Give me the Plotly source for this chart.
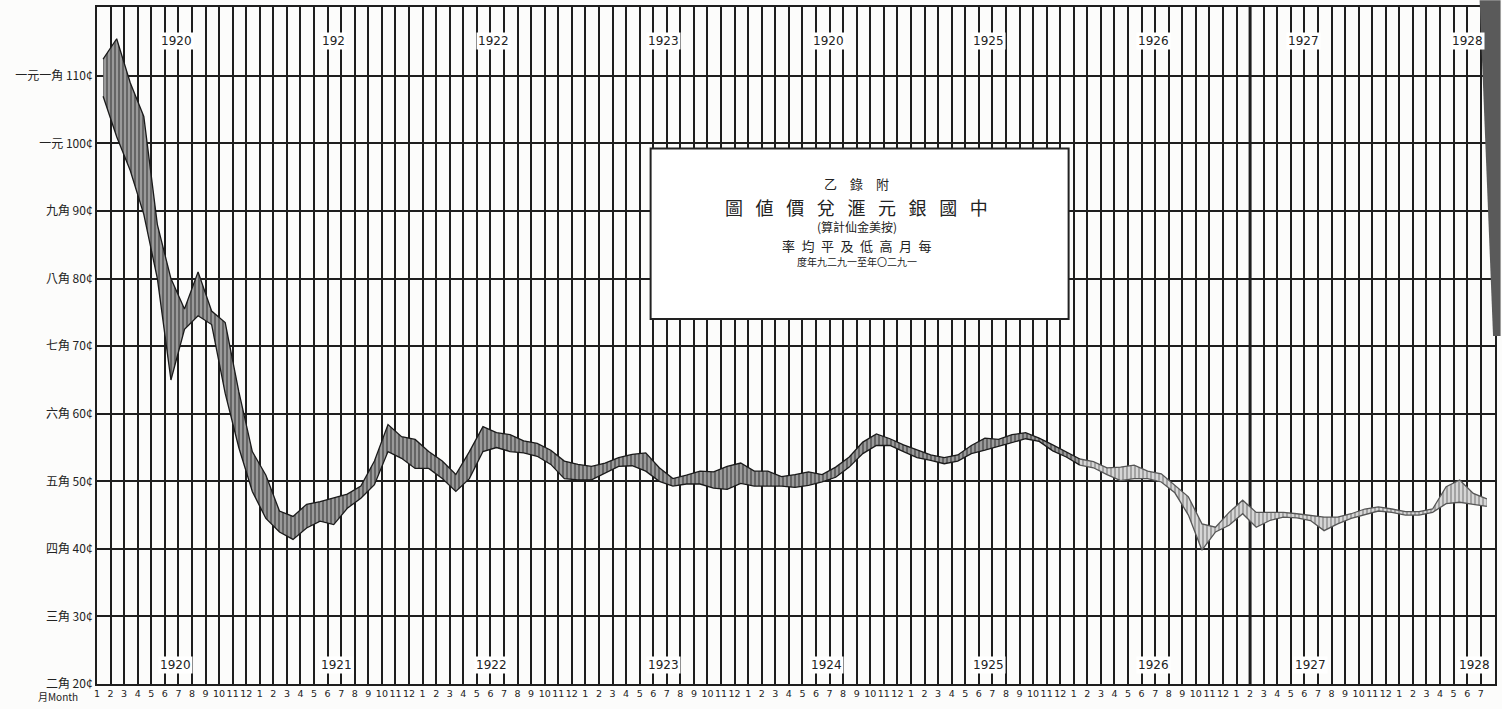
import plotly.graph_objects as go

# ---------------- data ----------------
# monthly index 0 = Jan 1920 ... 102 = Jul 1928 ; values in US cents
low = [
    107.0, 101.0, 96.0, 89.5, 80.0, 65.0, 72.5, 74.5, 73.2, 63.0, 55.0, 48.5,   # 1920
    44.5, 42.5, 41.4, 43.1, 44.1, 43.6, 46.0, 47.5, 49.5, 54.4, 53.4, 51.9,     # 1921
    51.9, 50.4, 48.5, 50.4, 54.4, 55.0, 54.4, 54.2, 53.7, 52.5, 50.4, 50.2,     # 1922
    50.2, 51.2, 52.2, 52.3, 51.5, 50.0, 49.3, 49.6, 49.6, 49.0, 48.8, 49.7,     # 1923
    49.3, 49.3, 49.3, 49.1, 49.4, 49.9, 50.6, 52.1, 54.1, 55.3, 55.3, 54.4,     # 1924
    53.5, 53.1, 52.6, 53.0, 54.1, 54.6, 55.2, 55.8, 56.3, 55.9, 54.5, 53.6,     # 1925
    52.4, 52.0, 51.0, 50.1, 50.4, 50.4, 49.9, 48.3, 45.0, 39.8, 42.5, 43.5,     # 1926
    45.2, 43.2, 44.2, 44.7, 44.6, 44.2, 42.7, 43.7, 44.5, 45.0, 45.6, 45.4,     # 1927
    45.0, 45.0, 45.4, 46.7, 46.9, 46.6, 46.3,                                   # 1928
]
high = [
    112.5, 115.5, 109.0, 104.0, 88.0, 80.0, 75.5, 81.0, 75.2, 73.5, 63.3, 54.4,
    50.9, 45.6, 44.8, 46.6, 47.0, 47.5, 48.1, 49.3, 53.0, 58.4, 56.6, 56.2,
    54.4, 53.0, 51.0, 54.4, 58.1, 57.2, 56.9, 56.0, 55.6, 54.6, 53.0, 52.5,
    52.2, 52.7, 53.5, 54.0, 54.2, 52.0, 50.4, 50.9, 51.5, 51.4, 52.2, 52.7,
    51.5, 51.5, 50.7, 51.0, 51.4, 51.0, 52.1, 53.6, 55.8, 57.0, 56.3, 55.4,
    54.6, 53.9, 53.5, 53.9, 55.3, 56.4, 56.2, 56.9, 57.2, 56.4, 55.4, 54.4,
    53.3, 52.9, 52.0, 52.1, 52.4, 51.5, 51.1, 49.4, 47.7, 43.7, 43.2, 45.4,
    47.2, 45.4, 45.4, 45.4, 45.2, 45.0, 44.7, 44.7, 45.2, 45.9, 46.2, 45.9,
    45.5, 45.5, 45.9, 49.2, 50.2, 48.2, 47.4,
]
months = list(range(len(low)))

y_values = [20, 30, 40, 50, 60, 70, 80, 90, 100, 110]
y_labels = ["二角 20¢", "三角 30¢", "四角 40¢", "五角 50¢", "六角 60¢",
            "七角 70¢", "八角 80¢", "九角 90¢", "一元 100¢", "一元一角 110¢"]

month_ticks = [str(k % 12 + 1) for k in range(len(low))]

years = ["1920", "1921", "1922", "1923", "1924", "1925", "1926", "1927", "1928"]
years_top = ["1920", "192", "1922", "1923", "1920", "1925", "1926", "1927", "1928"]
year_top_pos = [5.4, 17.0, 28.8, 41.3, 53.5, 65.3, 77.4, 88.5, 100.6]
year_bot_pos = [5.3, 17.2, 28.6, 41.3, 53.3, 65.3, 77.4, 89.0, 101.1]

title_lines = ["乙　錄　附",
               "圖\u2002\u2009値\u2002\u2009價\u2002\u2009兌\u2002\u2009滙\u2002\u2009元\u2002\u2009銀\u2002\u2009國\u2002\u2009中",
               "(算計仙金美按)",
               "率\u2002均\u2002平\u2002及\u2002低\u2002高\u2002月\u2002每",
               "度年九二九一至年〇二九一"]

SPLIT = 72   # later part of the ribbon is drawn lighter

# ---------------- figure ----------------
fig = go.Figure()

def ribbon(idx, line_col, fg, bg):
    xs = [months[i] for i in idx]
    fig.add_trace(go.Scatter(x=xs, y=[low[i] for i in idx], mode="lines",
                             line=dict(color=line_col, width=1.3),
                             hoverinfo="skip", showlegend=False))
    fig.add_trace(go.Scatter(x=xs, y=[high[i] for i in idx], mode="lines",
                             line=dict(color=line_col, width=1.3),
                             fill="tonexty",
                             fillpattern=dict(shape="|", fgcolor=fg, bgcolor=bg,
                                              size=4, solidity=0.45),
                             hoverinfo="skip", showlegend=False))

ribbon(list(range(0, SPLIT + 1)), "#1a1a1a", "#222222", "#9a9a9a")
ribbon(list(range(SPLIT, len(low))), "#555555", "#666666", "#d6d6d6")

grid_x = [k - 0.45 for k in range(len(low) + 1)]

fig.update_xaxes(
    range=[-0.45, 102.6],
    tickmode="array", tickvals=grid_x[:len(low)], ticktext=month_ticks,
    tickangle=0, ticks="",
    tickfont=dict(family="DejaVu Sans", size=9.5, color="#222"),
    showgrid=True, gridcolor="#1e1e1e", gridwidth=2,
    zeroline=False, showline=True, linecolor="#1e1e1e", linewidth=2, mirror=True,
)
fig.update_yaxes(
    range=[20, 120.2],
    tickmode="array", tickvals=y_values, ticktext=y_labels, ticks="",
    tickfont=dict(family="Noto Sans CJK TC", size=12, color="#222"),
    showgrid=True, gridcolor="#1e1e1e", gridwidth=2,
    zeroline=False, showline=True, linecolor="#1e1e1e", linewidth=2, mirror=True,
)

annotations = []
for lab, pos in zip(years_top, year_top_pos):
    annotations.append(dict(x=pos, y=0.95, xref="x", yref="paper", text=lab,
                            showarrow=False, bgcolor="white", yanchor="middle",
                            xanchor="center",
                            font=dict(family="DejaVu Sans", size=12, color="#222")))
for lab, pos in zip(years, year_bot_pos):
    annotations.append(dict(x=pos, y=0.028, xref="x", yref="paper", text=lab,
                            showarrow=False, bgcolor="white", yanchor="middle",
                            xanchor="center",
                            font=dict(family="DejaVu Sans", size=12, color="#222")))

annotations.append(dict(x=-0.028, y=-0.019, xref="paper", yref="paper",
                        text="月Month", showarrow=False, yanchor="middle",
                        xanchor="center",
                        font=dict(family="Noto Sans CJK TC", size=10, color="#222")))

# title box contents
title_y = [0.739, 0.705, 0.676, 0.647, 0.624]
title_sz = [13, 18, 12, 13, 10]
for t, yy, sz in zip(title_lines, title_y, title_sz):
    annotations.append(dict(x=0.5436, y=yy, xref="paper", yref="paper", text=t,
                            showarrow=False, yanchor="middle", xanchor="center",
                            font=dict(family="Noto Sans CJK TC", size=sz, color="#222")))

fig.update_layout(
    width=1502, height=709,
    margin=dict(l=97, r=5, t=5, b=25),
    paper_bgcolor="#fcfcfb", plot_bgcolor="#fcfcfb",
    showlegend=False,
    annotations=annotations,
    shapes=[
        dict(type="rect", xref="paper", yref="paper", x0=0.396, x1=0.695,
             y0=0.539, y1=0.791, fillcolor="white",
             line=dict(color="#222", width=2), layer="above"),
        dict(type="line", xref="x", yref="paper", x0=84.55, x1=84.55, y0=0, y1=1,
             line=dict(color="#666", width=3.5), layer="below"),
        dict(type="path", xref="paper", yref="paper",
             path="M 0.989 1.01 L 1.004 1.01 L 1.004 0.514 L 0.9986 0.514 Z",
             fillcolor="#5a5a5a", line=dict(width=0), layer="above"),
    ],
)

fig.write_html("out.html", config={"displayModeBar": False},
               post_script="document.body.style.margin='0';")
